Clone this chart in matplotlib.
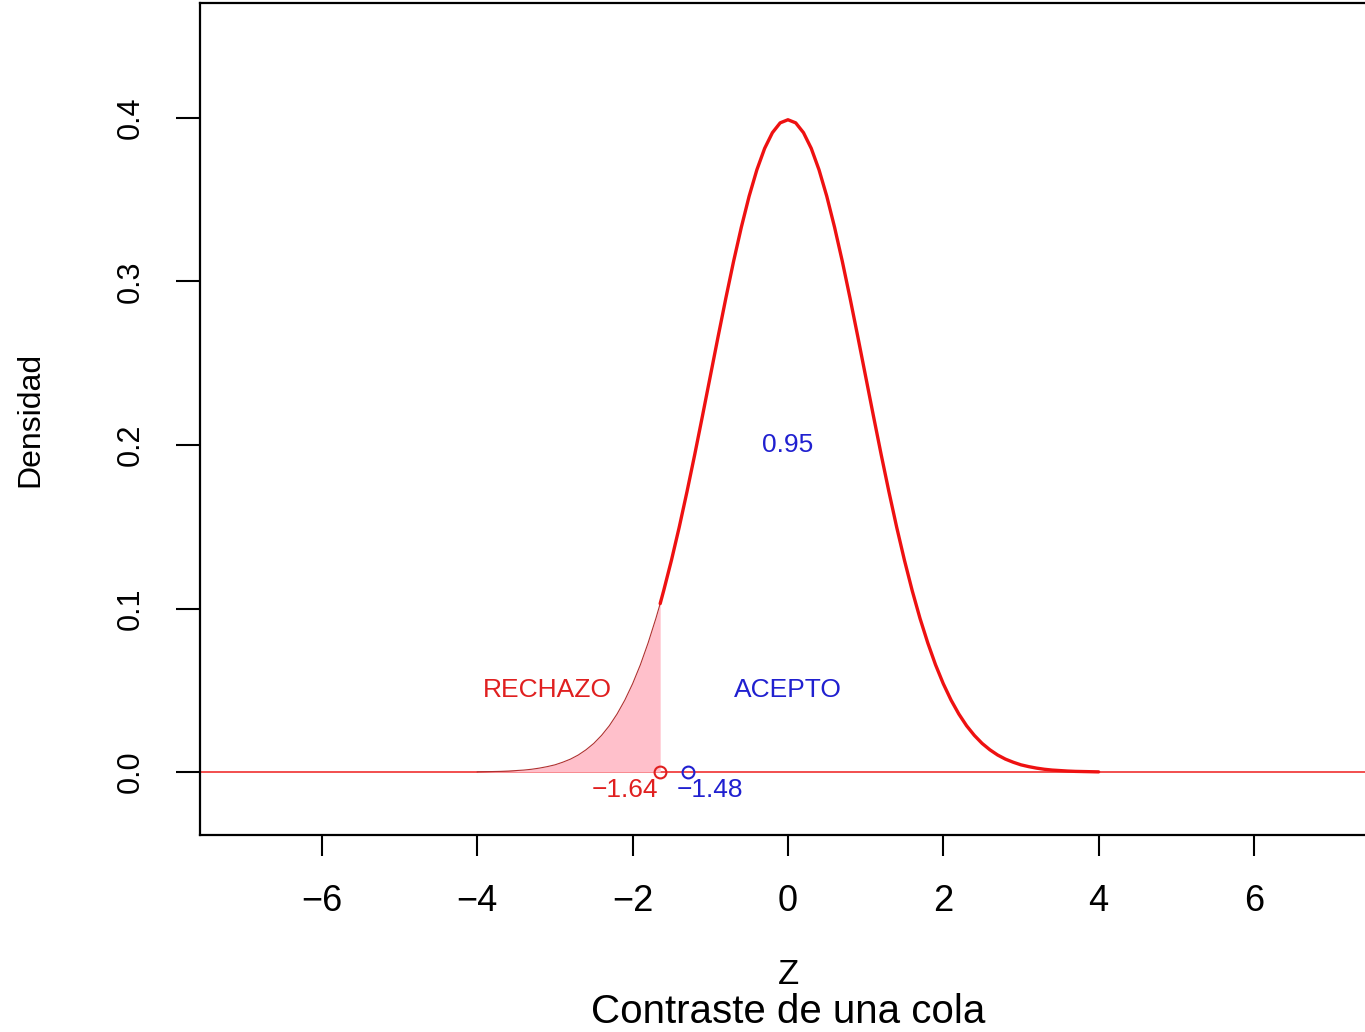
import numpy as np
import matplotlib
matplotlib.use('Agg')
import matplotlib.pyplot as plt

plt.rcParams['font.family'] = ['Liberation Sans', 'DejaVu Sans']

# =====================================================
# DATOS
# =====================================================
# densidad normal estandar, leida cada 0.1 desde -4 hasta 4
z_grid = np.linspace(-4, 4, 81)
densidad = [
    0.0001, 0.0002, 0.0003, 0.0004, 0.0006, 0.0009, 0.0012, 0.0017, 0.0024, 0.0033,
    0.0044, 0.0060, 0.0079, 0.0104, 0.0136, 0.0175, 0.0224, 0.0283, 0.0355, 0.0440,
    0.0540, 0.0656, 0.0790, 0.0940, 0.1109, 0.1295, 0.1497, 0.1714, 0.1942, 0.2179,
    0.2420, 0.2661, 0.2897, 0.3123, 0.3332, 0.3521, 0.3683, 0.3814, 0.3910, 0.3970,
    0.3989,
    0.3970, 0.3910, 0.3814, 0.3683, 0.3521, 0.3332, 0.3123, 0.2897, 0.2661, 0.2420,
    0.2179, 0.1942, 0.1714, 0.1497, 0.1295, 0.1109, 0.0940, 0.0790, 0.0656, 0.0540,
    0.0440, 0.0355, 0.0283, 0.0224, 0.0175, 0.0136, 0.0104, 0.0079, 0.0060, 0.0044,
    0.0033, 0.0024, 0.0017, 0.0012, 0.0009, 0.0006, 0.0004, 0.0003, 0.0002, 0.0001,
]

z_critico = -1.645
dens_critico = 0.103
z_observado = -1.29

etiqueta_critico = "\u22121.64"
etiqueta_observado = "\u22121.48"

x_ticks = [-6, -4, -2, 0, 2, 4, 6]
y_ticks = [0.0, 0.1, 0.2, 0.3, 0.4]

# =====================================================
# PREPARAR TRAMOS
# =====================================================
densidad = np.array(densidad)
mask_cola = z_grid < z_critico
z_cola = np.append(z_grid[mask_cola], z_critico)
d_cola = np.append(densidad[mask_cola], dens_critico)
z_cuerpo = np.insert(z_grid[~mask_cola], 0, z_critico)
d_cuerpo = np.insert(densidad[~mask_cola], 0, dens_critico)

# =====================================================
# FIGURA
# =====================================================
fig = plt.figure(figsize=(13.65, 10.32), dpi=100)
ax = fig.add_axes([0.1465, 0.1909, 0.8615, 0.8062])
ax.set_xlim(-7.57, 7.57)
ax.set_ylim(-0.0385, 0.4703)

# linea base
ax.axhline(0, color='#f03030', lw=1.2, zorder=1)

# region de rechazo
ax.fill_between(z_cola, 0, d_cola, color='#ffc0cb', lw=0, zorder=2)
ax.plot(z_cola, d_cola, color='#b03030', lw=0.8, zorder=3)

# curva de densidad
ax.plot(z_cuerpo, d_cuerpo, color='#ee1111', lw=2.4, zorder=3,
        solid_capstyle='round', solid_joinstyle='round')

# puntos critico y observado
ax.plot([z_critico], [0], 'o', mfc='none', mec='#e02020', ms=8.5, mew=1.5, zorder=4)
ax.plot([z_observado], [0], 'o', mfc='none', mec='#2020d0', ms=8.5, mew=1.5, zorder=4)

ax.text(-2.10, -0.011, etiqueta_critico, color='#e02020', fontsize=19,
        ha='center', va='center')
ax.text(-1.00, -0.011, etiqueta_observado, color='#2020d0', fontsize=19,
        ha='center', va='center')

ax.text(-3.10, 0.05, "RECHAZO", color='#e02020', fontsize=19, ha='center', va='center')
ax.text(0.0, 0.05, "ACEPTO", color='#2020d0', fontsize=19, ha='center', va='center')
ax.text(0.0, 0.20, "0.95", color='#2020d0', fontsize=19, ha='center', va='center')

# ejes estilo R
ax.set_xticks(x_ticks)
ax.set_xticklabels([f"{t}".replace('-', '\u2212') for t in x_ticks])
ax.set_yticks(y_ticks)
ax.set_yticklabels([f"{t:.1f}" for t in y_ticks], rotation=90, va='center')
ax.tick_params(axis='x', length=15, width=1.5, pad=20, labelsize=26)
ax.tick_params(axis='y', length=17, width=1.5, pad=22, labelsize=22)
for s in ax.spines.values():
    s.set_linewidth(1.6)

ax.set_ylabel("Densidad", fontsize=23, labelpad=51)

fig.text(0.5773, 48 / 1032, "Z", fontsize=25, ha='center', va='baseline')
fig.text(0.5773, 9 / 1032, "Contraste de una cola", fontsize=29,
         ha='center', va='baseline')

fig.savefig("out.png", dpi=100)
